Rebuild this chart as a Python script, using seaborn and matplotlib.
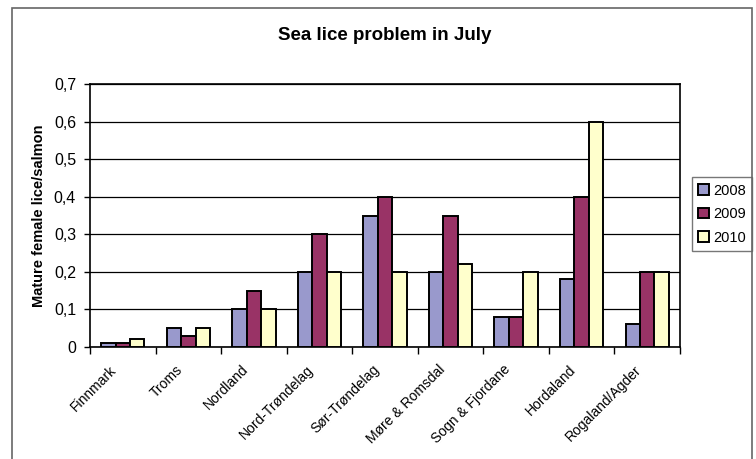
import pandas as pd
import matplotlib.pyplot as plt
import seaborn as sns
from matplotlib.patches import Rectangle
from matplotlib.ticker import FixedLocator, FuncFormatter
from matplotlib.transforms import ScaledTranslation

# Regions and values (mature female lice per salmon, July)
regions = ['Finnmark', 'Troms', 'Nordland', 'Nord-Trøndelag', 'Sør-Trøndelag',
           'Møre & Romsdal', 'Sogn & Fjordane', 'Hordaland', 'Rogaland/Agder']
v2008 = [0.01, 0.05, 0.10, 0.20, 0.35, 0.20, 0.08, 0.18, 0.06]
v2009 = [0.01, 0.03, 0.15, 0.30, 0.40, 0.35, 0.08, 0.40, 0.20]
v2010 = [0.02, 0.05, 0.10, 0.20, 0.20, 0.22, 0.20, 0.60, 0.20]
years = ['2008', '2009', '2010']

df = pd.DataFrame({
    'Region': regions * 3,
    'Year': [y for y in years for _ in regions],
    'Value': v2008 + v2009 + v2010,
})

sns.set_style("white")
plt.rcParams['font.family'] = ['Liberation Sans', 'DejaVu Sans']
plt.rcParams['text.color'] = 'black'
plt.rcParams['axes.labelcolor'] = 'black'
plt.rcParams['xtick.color'] = 'black'
plt.rcParams['ytick.color'] = 'black'

palette = {'2008': '#9999CC', '2009': '#993366', '2010': '#FFFFCC'}

fig = plt.figure(figsize=(7.56, 4.59), dpi=100)
ax = fig.add_axes([90 / 756, 1 - 347 / 459, 590 / 756, 263 / 459])

sns.barplot(data=df, x='Region', y='Value', hue='Year', palette=palette,
            width=0.66, edgecolor='black', linewidth=1.4, saturation=1, ax=ax, zorder=3)

# axes look
ax.set_ylim(0, 0.7)
ax.set_xlim(-0.5, len(regions) - 0.5)
ax.set_yticks([i / 10 for i in range(8)])
ax.yaxis.set_major_formatter(FuncFormatter(lambda v, p: '0' if v == 0 else f'{v:.1f}'.replace('.', ',')))
ax.grid(axis='y', color='black', linewidth=0.9, zorder=0)
for s in ax.spines.values():
    s.set_color('black')
    s.set_linewidth(1.2)

ax.xaxis.set_minor_locator(FixedLocator([i - 0.5 for i in range(len(regions) + 1)]))
ax.tick_params(axis='x', which='major', length=0, pad=4)
ax.tick_params(axis='x', which='minor', length=5, width=1, direction='out', bottom=True)
ax.tick_params(axis='y', length=4, width=1, direction='out', left=True, labelsize=11.5, pad=6)
plt.setp(ax.get_xticklabels(), rotation=45, ha='right', rotation_mode='anchor', fontsize=10)
shift = ScaledTranslation(-0.13, -0.10, fig.dpi_scale_trans)
for lab in ax.get_xticklabels():
    lab.set_transform(lab.get_transform() + shift)

ax.set_xlabel('')
ax.set_ylabel('Mature female lice/salmon', fontsize=10.5, fontweight='bold', labelpad=6)
fig.text(385 / 756, 1 - 35 / 459, 'Sea lice problem in July', ha='center', va='center',
         fontsize=13.5, fontweight='bold')

leg = ax.legend(loc='center left', bbox_to_anchor=(1.02, 0.505), frameon=True, fontsize=10.5,
                handlelength=0.7, handleheight=0.7, handletextpad=0.3, borderpad=0.45,
                labelspacing=0.65, fancybox=False, borderaxespad=0)
leg.get_frame().set_edgecolor('#555555')
leg.get_frame().set_linewidth(1)

# outer chart-area border
fig.patches.append(Rectangle((12 / 756, -0.05), 740 / 756, 1.05 - 8 / 459,
                             transform=fig.transFigure, fill=False, edgecolor='#666666',
                             linewidth=1.2))

plt.savefig('out.png', dpi=100)
